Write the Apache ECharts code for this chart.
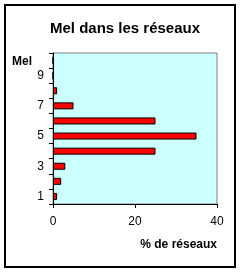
<!DOCTYPE html>
<html><head><meta charset="utf-8">
<script src="https://cdn.jsdelivr.net/npm/echarts@6/dist/echarts.min.js"></script>
<style>html,body{margin:0;padding:0;background:#fff}#c{width:242px;height:273px}</style>
</head><body><div id="c"></div>
<script>
var categories = ['1','2','3','4','5','6','7','8','9','10'];
var values = [1, 2, 3, 25, 35, 25, 5, 1, 0, 0];
var xTicks = [0, 20, 40];
var title = 'Mel dans les réseaux';
var yName = 'Mel';
var xName = '% de réseaux';

var chart = echarts.init(document.getElementById('c'));
var font = 'Liberation Sans, Arial, sans-serif';
chart.setOption({
  animation: false,
  title: {text: title, left: 120, top: 16, textAlign: 'center',
    textStyle: {fontFamily: font, fontSize: 15, fontWeight: 'bold', color: '#000'}},
  graphic: [{type: 'rect', shape: {x: 5, y: 5, width: 230, height: 262},
    style: {fill: 'none', stroke: '#000', lineWidth: 2}, z: 10}],
  grid: {left: 53, top: 53, width: 164, height: 151, show: true, backgroundColor: '#ccffff',
    borderColor: '#808080', borderWidth: 1, containLabel: false},
  xAxis: {type: 'value', min: 0, max: 40, interval: 20,
    axisLine: {show: true, lineStyle: {color: '#000'}},
    axisTick: {show: true, length: 4, lineStyle: {color: '#000'}},
    splitLine: {show: false},
    axisLabel: {fontFamily: font, fontSize: 12, color: '#000', margin: 12,
      formatter: function(v){ return xTicks.indexOf(v) >= 0 ? String(v) : ''; }},
    name: xName, nameLocation: 'end', nameGap: 0,
    nameTextStyle: {fontFamily: font, fontSize: 12, fontWeight: 'bold', color: '#000',
      align: 'right', verticalAlign: 'top', padding: [35, 0, 0, 0]}},
  yAxis: {type: 'category', data: categories, boundaryGap: true,
    axisLine: {show: true, lineStyle: {color: '#000'}},
    axisTick: {show: true, length: 4, interval: 0, lineStyle: {color: '#000'}},
    axisLabel: {fontFamily: font, fontSize: 12, color: '#000', margin: 9, interval: 1},
    name: yName, nameLocation: 'end', nameGap: -9,
    nameTextStyle: {fontFamily: font, fontSize: 12, fontWeight: 'bold', color: '#000',
      align: 'left', verticalAlign: 'middle', padding: [0, 0, 0, -41]}},
  series: [{type: 'bar', data: values, barWidth: 7,
    itemStyle: {color: '#ff0000', borderColor: '#000', borderWidth: 1}}]
});
</script></body></html>
